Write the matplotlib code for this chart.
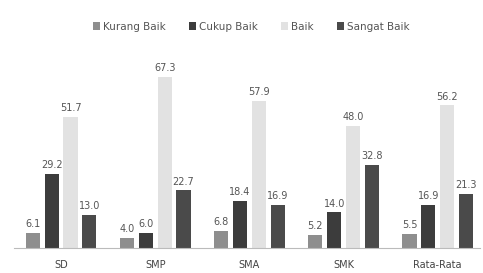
import numpy as np
import matplotlib.pyplot as plt

# data
categories = ["SD", "SMP", "SMA", "SMK", "Rata-Rata"]
series_names = ["Kurang Baik", "Cukup Baik", "Baik", "Sangat Baik"]
kurang_baik = [6.1, 4.0, 6.8, 5.2, 5.5]
cukup_baik = [29.2, 6.0, 18.4, 14.0, 16.9]
baik = [51.7, 67.3, 57.9, 48.0, 56.2]
sangat_baik = [13.0, 22.7, 16.9, 32.8, 21.3]

series = [kurang_baik, cukup_baik, baik, sangat_baik]
colors = ["#8e8e8e", "#3c3c3c", "#e2e2e2", "#4a4a4a"]
text_size = 7

fig = plt.figure(figsize=(4.83, 2.73), dpi=100, facecolor="white")
ax = fig.add_axes([0.029, 0.0916, 0.965, 0.725])

x = np.arange(len(categories))
step = 0.2
width = 0.15
for i, (vals, name, col) in enumerate(zip(series, series_names, colors)):
    pos = x + (i - 1.5) * step
    bars = ax.bar(pos, vals, width, color=col, label=name, edgecolor="none")
    for b, v in zip(bars, vals):
        ax.text(b.get_x() + b.get_width() / 2, v + 1.5, f"{v:.1f}",
                ha="center", va="bottom", fontsize=text_size, color="#555555")

ax.set_xlim(-0.5, 4.45)
ax.set_ylim(0, 78)
ax.set_xticks(x)
ax.set_xticklabels(categories, fontsize=text_size, color="#444444")
ax.tick_params(axis="x", length=0, pad=9)
ax.set_yticks([])
for side in ["left", "right", "top"]:
    ax.spines[side].set_visible(False)
ax.spines["bottom"].set_color("#bbbbbb")

fig.legend(loc="upper center", bbox_to_anchor=(0.52, 0.955), ncol=4, frameon=False,
           fontsize=7.5, handlelength=0.7, handleheight=0.7,
           handletextpad=0.3, columnspacing=2.2, labelcolor="#555555")

fig.savefig("out.png", dpi=100)
